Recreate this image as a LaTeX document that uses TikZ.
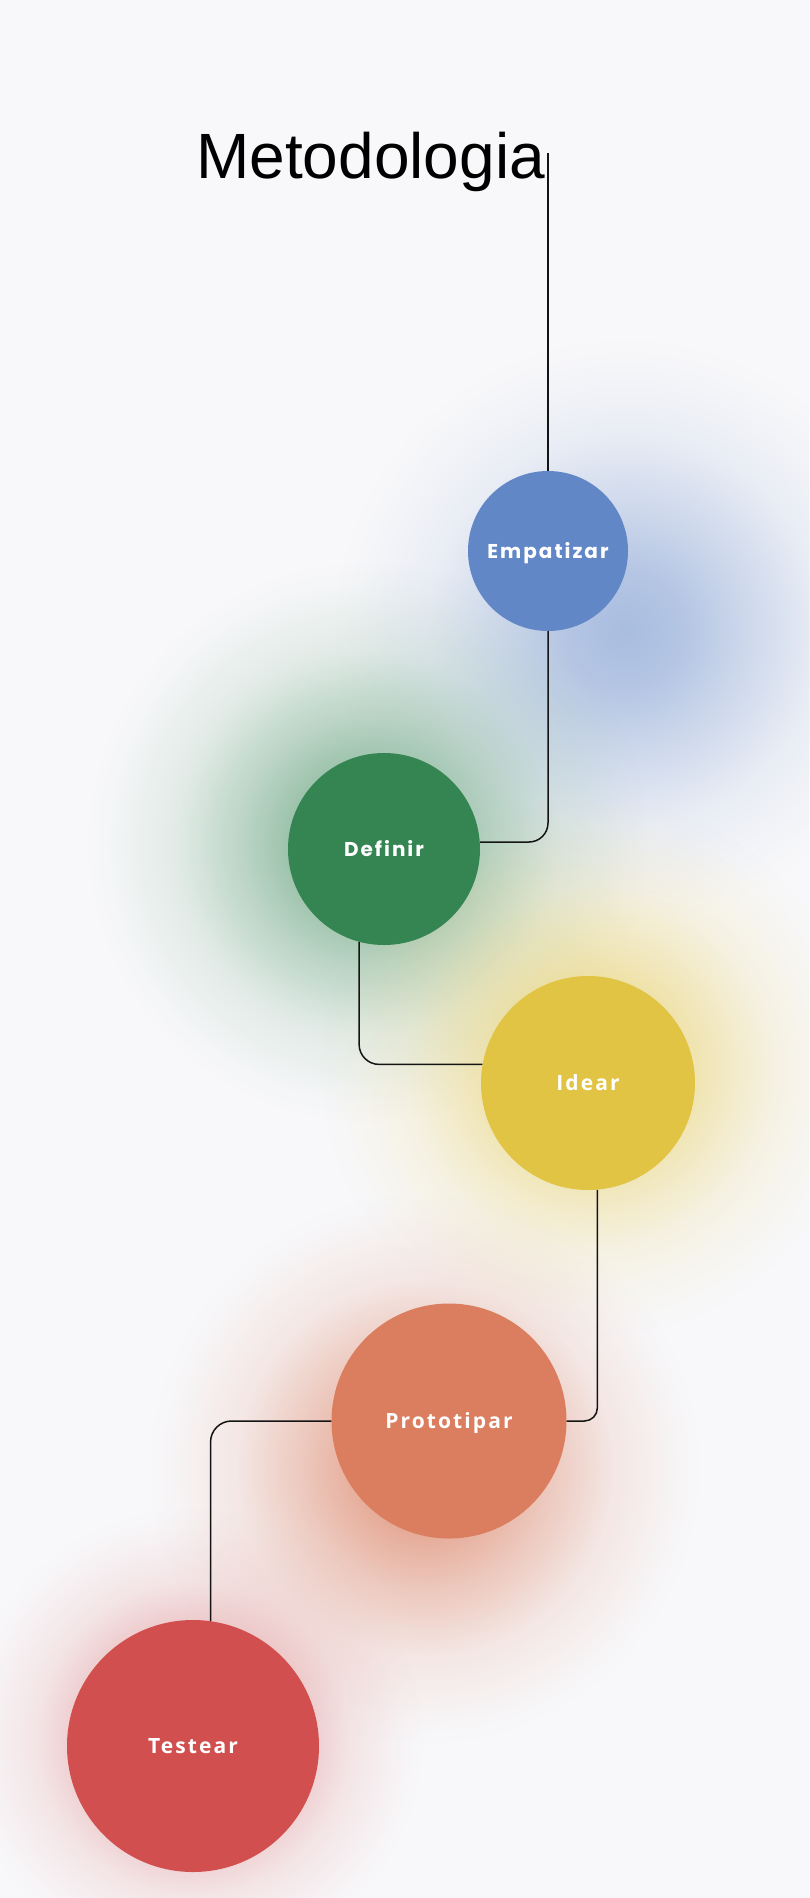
\documentclass[tikz,border=0pt]{standalone}
\usepackage{fontspec}
\setmainfont{Liberation Sans}
\newfontfamily\poppinsfont[LetterSpace=10]{Poppins}
\newfontfamily\opensansfont[LetterSpace=10]{Open Sans}
\usetikzlibrary{fadings, positioning}

\definecolor{fondo}{HTML}{F8F8FA}
\definecolor{azul}{HTML}{6287C6}
\definecolor{verde}{HTML}{358552}
\definecolor{amarillo}{HTML}{E2C444}
\definecolor{naranja}{HTML}{DB7E60}
\definecolor{rojo}{HTML}{D14F4F}
\definecolor{linea}{HTML}{141414}

% halo suave para el fondo
\pgfdeclareradialshading{brillo}{\pgfpointorigin}{color(0bp)=(white); color(5bp)=(white!85!black); color(11bp)=(white!50!black); color(17bp)=(white!18!black); color(23bp)=(white!3!black); color(25bp)=(black); color(50bp)=(black)}
\pgfdeclarefading{halo}{\pgfuseshading{brillo}}

\tikzset{
  etapa/.style={circle, fill=#1, inner sep=0pt, text=white, text height=15pt, text depth=0pt},
  conector/.style={draw=linea, line width=1.5pt},
  poppins/.style={font=\poppinsfont\bfseries\fontsize{20}{24}\selectfont},
  opensans/.style={font=\opensansfont\bfseries\fontsize{21}{25}\selectfont}
}

\begin{document}
\begin{tikzpicture}[x=1pt, y=-1pt]
  \useasboundingbox (0,0) rectangle (809,1898);
  \fill[fondo] (0,0) rectangle (809,1898);

  % halos de color
  \foreach \cx/\cy/\r/\col in {625/630/290/azul!55, 368/842/280/verde!65, 590/1068/270/amarillo!70,
                               425/1468/275/naranja!80, 193/1738/230/rojo!65} {
    \fill[\col, path fading=halo] (\cx,\cy) circle (\r);
  }

  \node[anchor=base west, inner sep=0pt, font=\fontsize{64}{70}\selectfont] (titulo) at (196,178) {Metodologia};

  \node[etapa=azul, minimum size=160pt, poppins] (emp) at (548,551) {Empatizar};
  \node[etapa=verde, minimum size=192pt, poppins] (def) at (384,849) {Definir};
  \node[etapa=amarillo, minimum size=214pt, opensans] (ide) at (588,1083) {Idear};
  \node[etapa=naranja, minimum size=235pt, opensans] (pro) at (449,1421) {Prototipar};
  \node[etapa=rojo, minimum size=252pt, opensans] (tes) at (193,1746) {Testear};

  \coordinate (inicio) at (548,153);
  \draw[conector] (inicio) -- (emp.north);
  \draw[conector, rounded corners=19pt] (emp.south) |- ([yshift=7pt]def.east);
  \draw[conector, rounded corners=20pt] (def.-105) |- (ide.170);
  \draw[conector, rounded corners=13pt] (ide.-85) |- (pro.east);
  \draw[conector, rounded corners=21pt] (pro.west) -| (tes.82);
\end{tikzpicture}
\end{document}
